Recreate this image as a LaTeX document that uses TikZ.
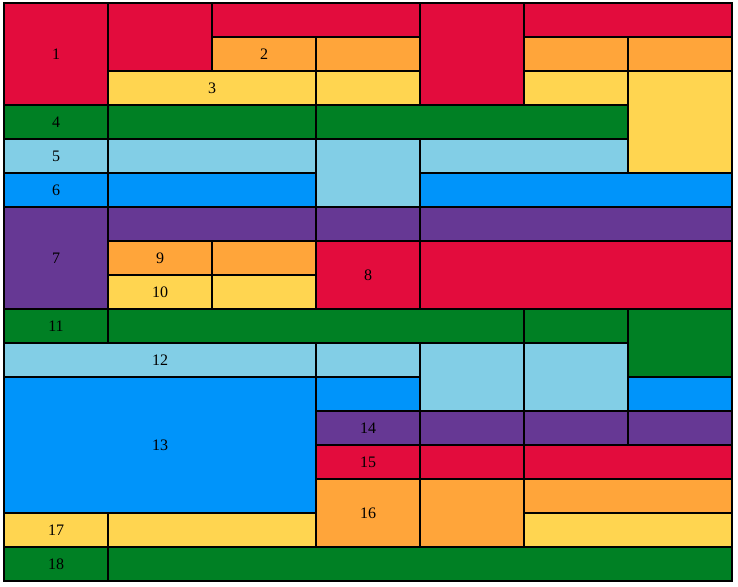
\documentclass[tikz,border=0pt]{standalone}
\usepackage{fontspec}
\setmainfont{Liberation Serif}
\definecolor{cred}{RGB}{227,12,61}
\definecolor{corange}{RGB}{255,165,58}
\definecolor{cyellow}{RGB}{255,213,80}
\definecolor{cgreen}{RGB}{0,128,36}
\definecolor{clblue}{RGB}{130,206,230}
\definecolor{cblue}{RGB}{0,148,250}
\definecolor{cpurple}{RGB}{102,56,148}
\tikzset{gcellstyle/.style={draw=black, line width=2pt, rectangle, inner sep=0pt, outer sep=0pt,
  font=\fontsize{16}{19}\selectfont, text=black}}
\newcommand\gcell[7]{%
  \pgfmathsetmacro\gcw{(#5-#3)*104}%
  \pgfmathsetmacro\gch{(#6-#4)*34}%
  \pgfmathsetmacro\gcx{4+(#3+#5)*52}%
  \pgfmathsetmacro\gcy{-3-(#4+#6)*17}%
  \node[gcellstyle, fill=#2, minimum width=\gcw pt, minimum height=\gch pt] (#1) at (\gcx pt,\gcy pt) {#7};}
\begin{document}
\begin{tikzpicture}
\useasboundingbox (0pt,0pt) rectangle (738pt,-586pt);
\fill[white] (0pt,0pt) rectangle (738pt,-586pt);
\gcell{a1}{cred}{0}{0}{1}{3}{1}
\gcell{r1b}{cred}{1}{0}{2}{2}{}
\gcell{r2}{cred}{2}{0}{4}{1}{}
\gcell{r3}{cred}{4}{0}{5}{3}{}
\gcell{r4}{cred}{5}{0}{7}{1}{}
\gcell{a2}{corange}{2}{1}{3}{2}{2}
\gcell{o2}{corange}{3}{1}{4}{2}{}
\gcell{o3}{corange}{5}{1}{6}{2}{}
\gcell{o4}{corange}{6}{1}{7}{2}{}
\gcell{a3}{cyellow}{1}{2}{3}{3}{3}
\gcell{y2}{cyellow}{3}{2}{4}{3}{}
\gcell{y3}{cyellow}{5}{2}{6}{3}{}
\gcell{y4}{cyellow}{6}{2}{7}{5}{}
\gcell{a4}{cgreen}{0}{3}{1}{4}{4}
\gcell{g2}{cgreen}{1}{3}{3}{4}{}
\gcell{g3}{cgreen}{3}{3}{6}{4}{}
\gcell{a5}{clblue}{0}{4}{1}{5}{5}
\gcell{lb2}{clblue}{1}{4}{3}{5}{}
\gcell{lb3}{clblue}{3}{4}{4}{6}{}
\gcell{lb4}{clblue}{4}{4}{6}{5}{}
\gcell{a6}{cblue}{0}{5}{1}{6}{6}
\gcell{b2}{cblue}{1}{5}{3}{6}{}
\gcell{b3}{cblue}{4}{5}{7}{6}{}
\gcell{a7}{cpurple}{0}{6}{1}{9}{7}
\gcell{p2}{cpurple}{1}{6}{3}{7}{}
\gcell{p3}{cpurple}{3}{6}{4}{7}{}
\gcell{p4}{cpurple}{4}{6}{7}{7}{}
\gcell{a9}{corange}{1}{7}{2}{8}{9}
\gcell{o6}{corange}{2}{7}{3}{8}{}
\gcell{a8}{cred}{3}{7}{4}{9}{8}
\gcell{r6}{cred}{4}{7}{7}{9}{}
\gcell{a10}{cyellow}{1}{8}{2}{9}{10}
\gcell{y6}{cyellow}{2}{8}{3}{9}{}
\gcell{a11}{cgreen}{0}{9}{1}{10}{11}
\gcell{g5}{cgreen}{1}{9}{5}{10}{}
\gcell{g6}{cgreen}{5}{9}{6}{10}{}
\gcell{g7}{cgreen}{6}{9}{7}{11}{}
\gcell{a12}{clblue}{0}{10}{3}{11}{12}
\gcell{lb6}{clblue}{3}{10}{4}{11}{}
\gcell{lb7}{clblue}{4}{10}{5}{12}{}
\gcell{lb8}{clblue}{5}{10}{6}{12}{}
\gcell{a13}{cblue}{0}{11}{3}{15}{13}
\gcell{b5}{cblue}{3}{11}{4}{12}{}
\gcell{b6}{cblue}{6}{11}{7}{12}{}
\gcell{a14}{cpurple}{3}{12}{4}{13}{14}
\gcell{p6}{cpurple}{4}{12}{5}{13}{}
\gcell{p7}{cpurple}{5}{12}{6}{13}{}
\gcell{p8}{cpurple}{6}{12}{7}{13}{}
\gcell{a15}{cred}{3}{13}{4}{14}{15}
\gcell{r8}{cred}{4}{13}{5}{14}{}
\gcell{r9}{cred}{5}{13}{7}{14}{}
\gcell{a16}{corange}{3}{14}{4}{16}{16}
\gcell{o8}{corange}{4}{14}{5}{16}{}
\gcell{o9}{corange}{5}{14}{7}{15}{}
\gcell{a17}{cyellow}{0}{15}{1}{16}{17}
\gcell{y8}{cyellow}{1}{15}{3}{16}{}
\gcell{y9}{cyellow}{5}{15}{7}{16}{}
\gcell{a18}{cgreen}{0}{16}{1}{17}{18}
\gcell{g9}{cgreen}{1}{16}{7}{17}{}
\end{tikzpicture}
\end{document}
